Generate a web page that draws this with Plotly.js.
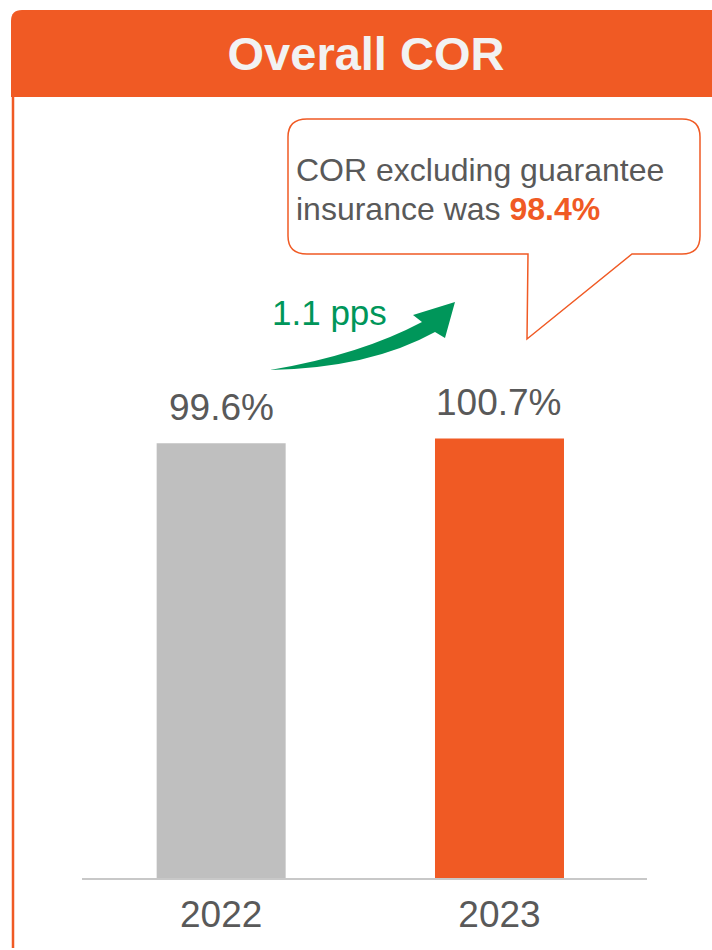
<!DOCTYPE html>
<html>
<head>
<meta charset="utf-8">
<script src="https://cdn.plot.ly/plotly-3.0.1.min.js"></script>
<style>html,body{margin:0;padding:0;background:#fff;}#chart{width:712px;height:950px;}</style>
</head>
<body>
<div id="chart"></div>
<script>
// ---- data ----
const years = ['2022', '2023'];
const corValues = [99.6, 100.7];
const barColors = ['#bfbfbf', '#f05a24'];
const chartTitle = 'Overall COR';
const changeLabel = '1.1 pps';
const calloutLine1 = 'COR excluding guarantee';
const calloutLine2 = 'insurance was ';
const calloutValue = '98.4%';

// ---- helpers: pixel -> paper (figure has zero margins) ----
const W = 712, H = 950;
const px = x => x / W;
const py = y => 1 - y / H;
function path(cmds) {
  return cmds.map(c => {
    const [op, ...pts] = c;
    const out = [];
    for (let i = 0; i < pts.length; i += 2) out.push(px(pts[i]).toFixed(5) + ',' + py(pts[i + 1]).toFixed(5));
    return op + ' ' + out.join(' ');
  }).join(' ') + ' Z';
}

const ORANGE = '#f05a24';
const GREEN = '#00965a';
const GREY_TEXT = '#595959';
const FONT = 'Liberation Sans, Arial, sans-serif';

const trace = {
  type: 'bar',
  x: years,
  y: corValues,
  marker: { color: barColors },
  hoverinfo: 'skip'
};

// category axis: annotation x given as the category's serial index
const valueAnnotations = years.map((yr, i) => ({
  x: i, y: corValues[i], xref: 'x', yref: 'y',
  text: corValues[i].toFixed(1) + '%',
  showarrow: false, yanchor: 'middle', xanchor: 'center', yshift: 36,
  font: { family: FONT, size: 37, color: GREY_TEXT }
}));

const shapes = [
  // header band
  { type: 'path', xref: 'paper', yref: 'paper', layer: 'below',
    path: path([['M', 11, 97], ['L', 11, 21], ['Q', 11, 10, 22, 10], ['L', 715, 10], ['L', 715, 97]]),
    fillcolor: ORANGE, line: { width: 0 } },
  // left panel border
  { type: 'line', xref: 'paper', yref: 'paper', x0: px(13), x1: px(13), y0: py(96), y1: py(948),
    line: { color: ORANGE, width: 2.5 } },
  // callout bubble
  { type: 'path', xref: 'paper', yref: 'paper', layer: 'above',
    path: path([['M', 307, 119], ['L', 682, 119], ['Q', 700, 119, 700, 137], ['L', 700, 236],
                ['Q', 700, 254, 682, 254], ['L', 632, 254], ['L', 527, 339], ['L', 528, 254],
                ['L', 307, 254], ['Q', 288, 254, 288, 236], ['L', 288, 137], ['Q', 288, 119, 307, 119]]),
    fillcolor: '#ffffff', line: { color: ORANGE, width: 1.5 } },
  // curved green arrow
  { type: 'path', xref: 'paper', yref: 'paper', layer: 'above',
    path: path([['M', 270, 370], ['Q', 360, 355, 422, 322], ['L', 413, 315], ['L', 455, 302],
                ['L', 445, 338], ['L', 435, 332], ['Q', 370, 368, 270, 370]]),
    fillcolor: GREEN, line: { width: 0 } }
];

const annotations = valueAnnotations.concat([
  { xref: 'paper', yref: 'paper', x: px(294), y: py(170), xanchor: 'left', yanchor: 'middle',
    text: calloutLine1, showarrow: false, font: { family: FONT, size: 32, color: GREY_TEXT } },
  { xref: 'paper', yref: 'paper', x: px(294), y: py(209), xanchor: 'left', yanchor: 'middle',
    text: calloutLine2 + '<b><span style="color:' + ORANGE + '">' + calloutValue + '</span></b>',
    showarrow: false, font: { family: FONT, size: 32, color: GREY_TEXT } },
  { xref: 'paper', yref: 'paper', x: px(270), y: py(312), xanchor: 'left', yanchor: 'middle',
    text: changeLabel, showarrow: false, font: { family: FONT, size: 35, color: GREEN } }
]);

const layout = {
  width: W, height: H,
  margin: { l: 0, r: 0, t: 0, b: 0, pad: 0 },
  paper_bgcolor: '#ffffff', plot_bgcolor: 'rgba(0,0,0,0)',
  showlegend: false,
  bargap: 0.5365,
  title: { text: '<b>' + chartTitle + '</b>', x: px(366), xref: 'paper', xanchor: 'center',
           y: py(54), yref: 'container', yanchor: 'middle',
           font: { family: FONT, size: 47, color: '#f2f2f2' } },
  xaxis: {
    type: 'category', domain: [px(82), px(647)], range: [-0.5, 1.53],
    showline: true, linecolor: '#c8c8c8', linewidth: 2,
    showgrid: false, zeroline: false, ticks: '',
    ticklabelstandoff: 3,
    tickfont: { family: FONT, size: 37, color: GREY_TEXT },
    fixedrange: true
  },
  yaxis: {
    visible: false, range: [0, 178], domain: [py(878), py(101)],
    showgrid: false, zeroline: false, fixedrange: true
  },
  shapes: shapes,
  annotations: annotations
};

Plotly.newPlot('chart', [trace], layout, { displayModeBar: false, staticPlot: true });
</script>
</body>
</html>
